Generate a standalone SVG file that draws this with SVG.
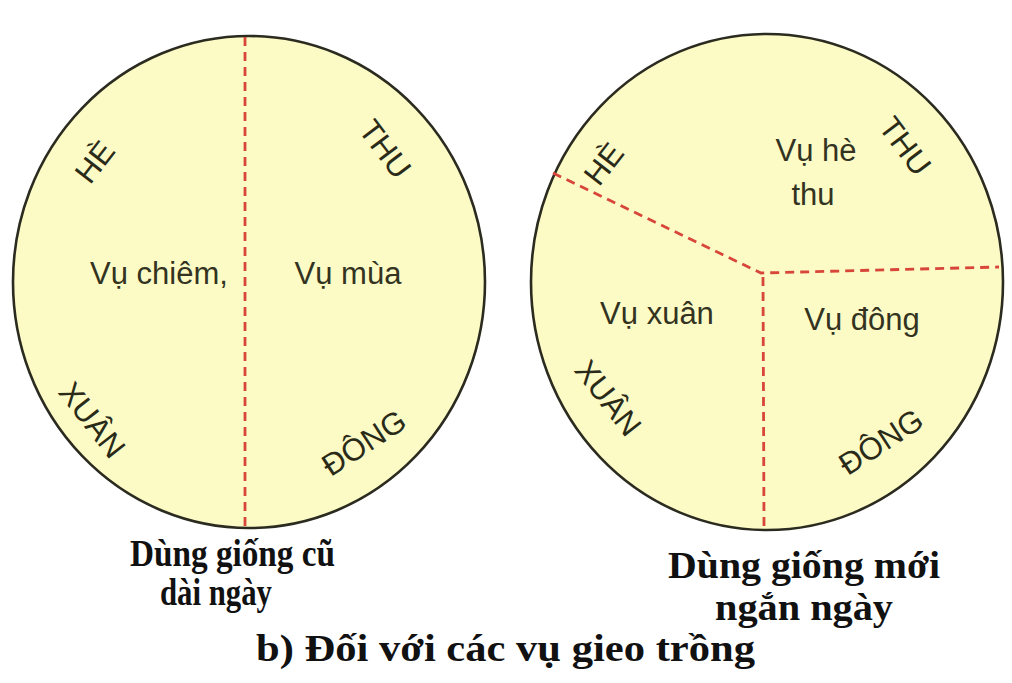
<svg xmlns="http://www.w3.org/2000/svg" width="1012" height="683" viewBox="0 0 1012 683">
<style>
.disc{fill:#fcfbc6;stroke:#2b2b20;stroke-width:2.6}
.cut{fill:none;stroke:#d8463a;stroke-width:2.8;stroke-dasharray:9 6}
.season{font-family:"Liberation Sans",Arial,sans-serif;font-size:31px;fill:#2a2a18;text-anchor:middle;dominant-baseline:central}
.crop{font-family:"Liberation Sans",Arial,sans-serif;font-size:31px;fill:#33331f;text-anchor:middle}
.cap{font-family:"Liberation Serif","Times New Roman",serif;font-weight:bold;font-size:38px;fill:#111;text-anchor:start}
</style>
<rect width="1012" height="683" fill="#ffffff"/>
<g id="left-circle">
<ellipse class="disc" cx="249" cy="282" rx="236" ry="246"/>
<text class="season" transform="translate(95,162) rotate(-52)">HÈ</text>
<text class="season" transform="translate(385,149) rotate(53)">THU</text>
<text class="season" transform="translate(92,420) rotate(52)">XUÂN</text>
<text class="season" transform="translate(364,443) rotate(-33)">ĐÔNG</text>
<text class="crop" x="159" y="284">Vụ chiêm,</text>
<text class="crop" x="348" y="284">Vụ mùa</text>
</g>
<g id="right-circle">
<ellipse class="disc" cx="767" cy="282" rx="236" ry="248"/>
<text class="season" transform="translate(604,164) rotate(-52)">HÈ</text>
<text class="season" transform="translate(905,146) rotate(53)">THU</text>
<text class="season" transform="translate(608,398) rotate(52)">XUÂN</text>
<text class="season" transform="translate(881,442) rotate(-33)">ĐÔNG</text>
<text class="crop" x="816" y="161">Vụ hè</text>
<text class="crop" x="813" y="205">thu</text>
<text class="crop" x="657" y="324">Vụ xuân</text>
<text class="crop" x="862" y="330">Vụ đông</text>
</g>
<g id="connectors">
<line class="cut" x1="245" y1="37" x2="245" y2="526"/>
<polyline class="cut" points="553,173 761,273 999,267"/>
<line class="cut" x1="763" y1="277" x2="764" y2="527"/>
</g>
<g id="captions">
<text class="cap" x="130" y="566" textLength="205" lengthAdjust="spacingAndGlyphs">Dùng giống cũ</text>
<text class="cap" x="160" y="605" textLength="112" lengthAdjust="spacingAndGlyphs">dài ngày</text>
<text class="cap" x="668" y="578" textLength="272" lengthAdjust="spacingAndGlyphs">Dùng giống mới</text>
<text class="cap" x="715" y="620" textLength="178" lengthAdjust="spacingAndGlyphs">ngắn ngày</text>
<text class="cap" x="256" y="661" textLength="499" lengthAdjust="spacingAndGlyphs">b) Đối với các vụ gieo trồng</text>
</g>
</svg>
